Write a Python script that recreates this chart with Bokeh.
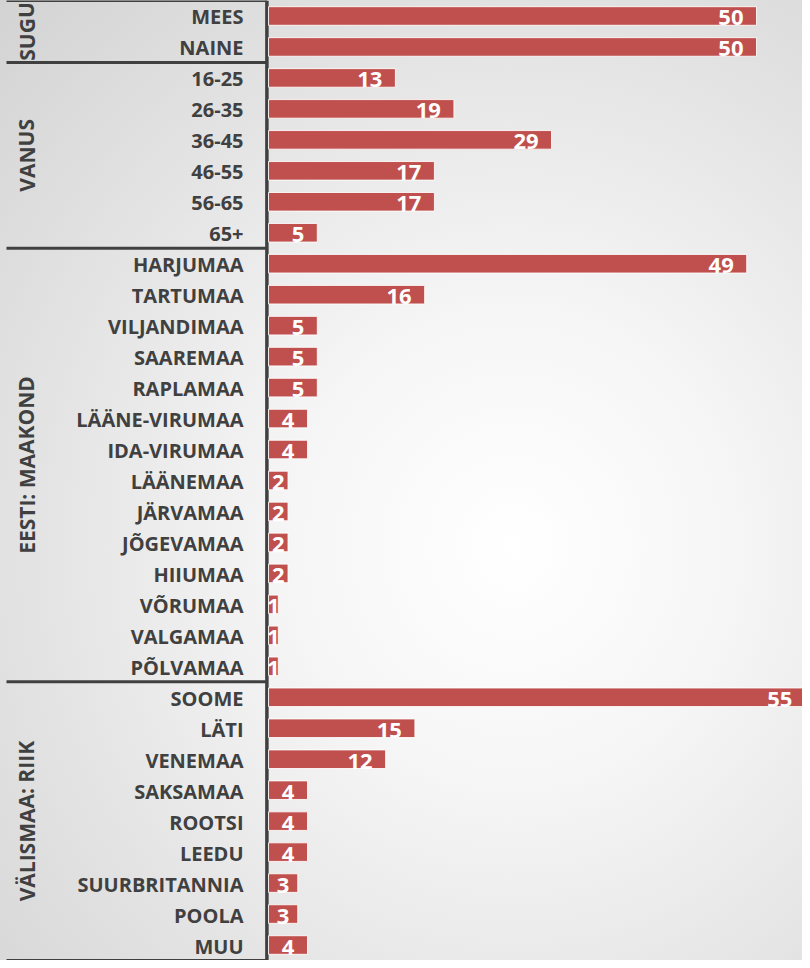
from bokeh.plotting import figure
from bokeh.models import ColumnDataSource, Range1d
from bokeh.core.properties import value
from bokeh.embed import file_html
from bokeh.resources import INLINE

groups = ["SUGU", "VANUS", "EESTI: MAAKOND", "VÄLISMAA: RIIK"]
sugu_cats = ["MEES", "NAINE"]
sugu_vals = [50, 50]
vanus_cats = ["16-25", "26-35", "36-45", "46-55", "56-65", "65+"]
vanus_vals = [13, 19, 29, 17, 17, 5]
maakond_cats = ["HARJUMAA", "TARTUMAA", "VILJANDIMAA", "SAAREMAA", "RAPLAMAA",
                "LÄÄNE-VIRUMAA", "IDA-VIRUMAA", "LÄÄNEMAA", "JÄRVAMAA", "JÕGEVAMAA",
                "HIIUMAA", "VÕRUMAA", "VALGAMAA", "PÕLVAMAA"]
maakond_vals = [49, 16, 5, 5, 5, 4, 4, 2, 2, 2, 2, 1, 1, 1]
riik_cats = ["SOOME", "LÄTI", "VENEMAA", "SAKSAMAA", "ROOTSI", "LEEDU",
             "SUURBRITANNIA", "POOLA", "MUU"]
riik_vals = [55, 15, 12, 4, 4, 4, 3, 3, 4]

group_cats = [sugu_cats, vanus_cats, maakond_cats, riik_cats]
group_vals = [sugu_vals, vanus_vals, maakond_vals, riik_vals]

# ---- build rows (top to bottom) ----
cats, vals = [], []
for c, v in zip(group_cats, group_vals):
    cats += c
    vals += v
n = len(cats)
ys = [n - 1 - i for i in range(n)]

W, H = 802, 960
LEFT_PX = 268          # width of the label area
PX_PER_UNIT = 9.76
x_start = -LEFT_PX / PX_PER_UNIT
x_end = (W - LEFT_PX) / PX_PER_UNIT

p = figure(width=W, height=H, output_backend="svg", toolbar_location=None,
           x_range=Range1d(x_start, x_end), y_range=Range1d(-0.5, n - 0.5),
           x_axis_type=None, y_axis_type=None,
           min_border=0, min_border_left=0, min_border_right=0,
           min_border_top=0, min_border_bottom=0)
p.grid.visible = False
p.outline_line_color = None
p.background_fill_color = None
p.border_fill_color = None
p.styles = {"background": "radial-gradient(ellipse farthest-corner at 64% 57%, "
                          "#ffffff 0%, #f6f6f6 30%, #e4e4e4 65%, #d3d3d3 100%)"}

DARK = "#404040"
FONT = value("Open Sans")
AXIS_X = -1.6 / PX_PER_UNIT

# group separators (top, between groups, bottom) and group labels
sep_y = [n - 0.5]
g_y, g_txt = [], []
row = 0
for g, c in zip(groups, group_cats):
    top = n - 1 - row
    bottom = n - row - len(c)
    g_y.append((top + bottom) / 2)
    g_txt.append(g)
    sep_y.append(bottom - 0.5)
    row += len(c)

sep_x0 = x_start + 6 / PX_PER_UNIT
p.segment(x0=[sep_x0] * len(sep_y), x1=[AXIS_X] * len(sep_y), y0=sep_y, y1=sep_y,
          line_color=DARK, line_width=3)
# vertical axis line
p.segment(x0=[AXIS_X], x1=[AXIS_X], y0=[-0.5], y1=[n - 0.5],
          line_color=DARK, line_width=3.5)

p.text(x=[0] * len(g_y), y=g_y, text=g_txt, angle=1.5708, x_offset=-242,
       text_align="center", text_baseline="middle", text_font=FONT,
       text_font_style="bold", text_font_size="21px", text_color=DARK)

# category labels
p.text(x=[0] * n, y=ys, text=cats, x_offset=-25, y_offset=1,
       text_align="right", text_baseline="middle", text_font=FONT,
       text_font_style="bold", text_font_size="20px", text_color=DARK)

# bars
src = ColumnDataSource(dict(y=ys, v=vals, lab=[str(v) for v in vals]))
p.hbar(y="y", left=0, right="v", height=0.6, source=src,
       fill_color="#C0504D", line_color="white", line_width=1, line_alpha=0.85)

# value labels
big = [i for i in range(n) if vals[i] >= 5]
small = [i for i in range(n) if vals[i] < 5]
p.text(x=[vals[i] for i in big], y=[ys[i] for i in big],
       text=[str(vals[i]) for i in big], x_offset=-13, y_offset=2,
       text_align="right", text_baseline="middle", text_font=FONT,
       text_font_style="bold", text_font_size="22px", text_color="white")
p.text(x=[vals[i] / 2 for i in small], y=[ys[i] for i in small],
       text=[str(vals[i]) for i in small], y_offset=2,
       text_align="center", text_baseline="middle", text_font=FONT,
       text_font_style="bold", text_font_size="22px", text_color="white")

open("out.html", "w").write(file_html(p, INLINE))
